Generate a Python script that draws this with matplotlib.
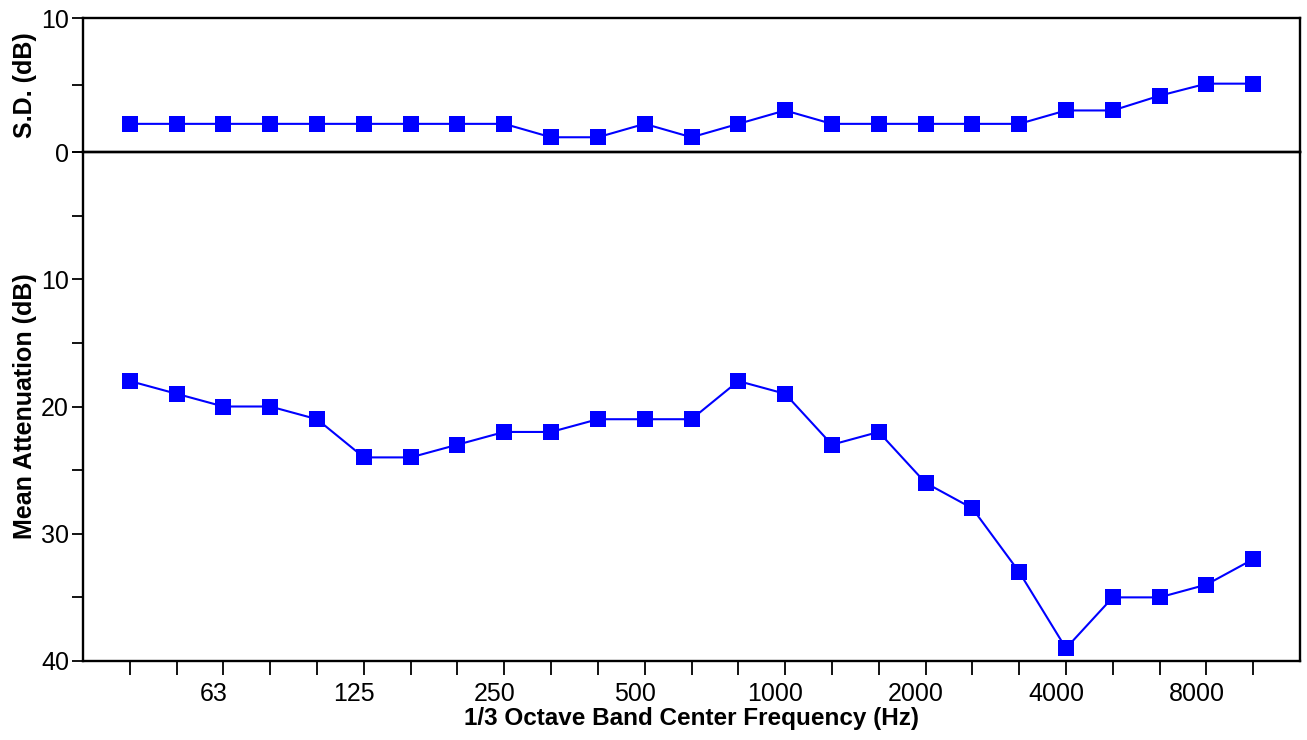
import numpy as np
import matplotlib.pyplot as plt
import matplotlib.transforms as mtransforms

plt.rcParams['font.family'] = ['Liberation Sans', 'DejaVu Sans']

# 1/3 octave band centre frequencies (Hz)
freqs = [40, 50, 63, 80, 100, 125, 160, 200, 250, 315, 400, 500, 630,
         800, 1000, 1250, 1600, 2000, 2500, 3150, 4000, 5000, 6300, 8000, 10000]
labelled = [63, 125, 250, 500, 1000, 2000, 4000, 8000]

# standard deviation (dB)
sd = [2.1, 2.1, 2.1, 2.1, 2.1, 2.1, 2.1, 2.1, 2.1, 1.1, 1.1, 2.1, 1.1,
      2.1, 3.1, 2.1, 2.1, 2.1, 2.1, 2.1, 3.1, 3.1, 4.2, 5.1, 5.1]

# mean attenuation (dB)
mean_att = [18, 19, 20, 20, 21, 24, 24, 23, 22, 22, 21, 21, 21,
            18, 19, 23, 22, 26, 28, 33, 39, 35, 35, 34, 32]

blue = '#0000ff'
x = np.arange(len(freqs))

fig = plt.figure(figsize=(13.07, 7.4), dpi=100)
left, right = 83 / 1307, 1300 / 1307
y_top, y_mid, y_bot = 1 - 18 / 740, 1 - 152 / 740, 1 - 661 / 740

ax_sd = fig.add_axes([left, y_mid, right - left, y_top - y_mid])
ax_m = fig.add_axes([left, y_bot, right - left, y_mid - y_bot], sharex=ax_sd)
ax_m.patch.set_visible(False)

line_kw = dict(color=blue, lw=1.5, marker='s', markersize=11, markeredgewidth=0)
ax_sd.plot(x, sd, **line_kw)
ax_m.plot(x, mean_att, **line_kw)

for ax in (ax_sd, ax_m):
    for s in ax.spines.values():
        s.set_linewidth(1.7)
    ax.tick_params(axis='y', direction='out', length=8, width=1.3, labelsize=18, pad=2)

ax_sd.set_ylim(0, 10)
ax_sd.set_yticks([0, 5, 10])
ax_sd.set_yticklabels(['0', '', '10'])
ax_sd.tick_params(axis='x', bottom=False, labelbottom=False)
ax_sd.set_ylabel('S.D. (dB)', fontsize=18, fontweight='bold')

ax_m.set_ylim(40, 0)
ax_m.set_yticks([0, 5, 10, 15, 20, 25, 30, 35, 40])
ax_m.set_yticklabels(['', '', '10', '', '20', '', '30', '', '40'])
ax_m.set_ylabel('Mean Attenuation (dB)', fontsize=18, fontweight='bold')

ax_m.set_xlim(-1, 25)
ax_m.set_xticks(x)
ax_m.set_xticklabels([str(f) if f in labelled else '' for f in freqs])
ax_m.tick_params(axis='x', direction='out', length=10, width=1.3, labelsize=18, pad=5)
shift = mtransforms.ScaledTranslation(-10 / 100, 0, fig.dpi_scale_trans)
for lab in ax_m.get_xticklabels():
    lab.set_transform(lab.get_transform() + shift)
ax_m.set_xlabel('1/3 Octave Band Center Frequency (Hz)', fontsize=17.5,
                fontweight='bold', labelpad=1)

ax_sd.yaxis.set_label_coords(-0.038, 0.5)
ax_m.yaxis.set_label_coords(-0.038, 0.5)

fig.savefig('out.png', dpi=100)
